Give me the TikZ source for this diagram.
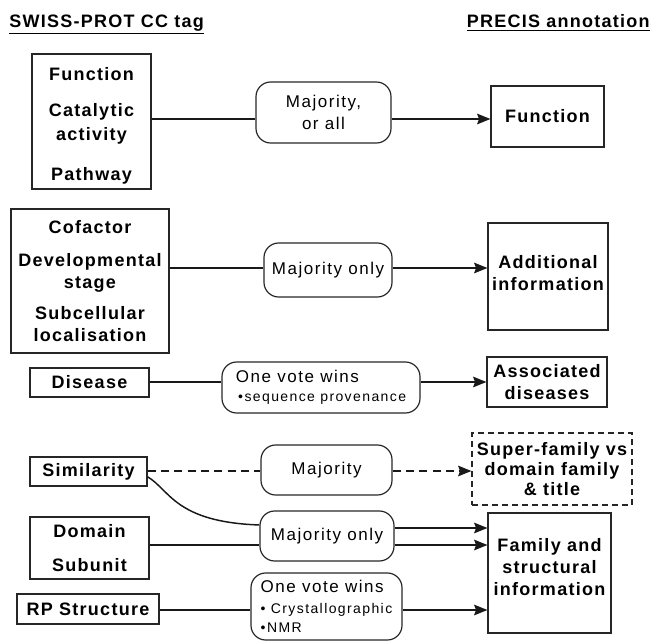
\documentclass[tikz,border=0pt]{standalone}
\usepackage{fontspec}
\setmainfont{Liberation Sans}
\newfontfamily\lblfamily{Liberation Sans}[LetterSpace=7]
\newfontfamily\rulefamily{Liberation Sans}[LetterSpace=9]
\newfontfamily\notefamily{Liberation Sans}[LetterSpace=10]
\usetikzlibrary{arrows.meta}
\newcommand\pxu{0.75pt}
\newcommand\notetext[1]{{\notefamily\fontsize{10.5}{13}\selectfont #1}}
\tikzset{
  headtxt/.style={font=\lblfamily\bfseries\fontsize{13.5}{16.5}\selectfont, inner sep=0pt},
  tagbox/.style={draw=black!85, line width=0.9pt, inner sep=0pt, align=center,
    font=\lblfamily\bfseries\fontsize{13.5}{16.5}\selectfont},
  outbox/.style={tagbox},
  rulebox/.style={draw=black!85, line width=0.9pt, rounded corners=11pt, inner sep=0pt,
    align=center, font=\rulefamily\fontsize{12.75}{16.5}\selectfont},
  link/.style={line width=1.1pt, black!90},
  arr/.style={link, -{Stealth[length=10pt, width=8pt, inset=1.5pt]}},
}
\begin{document}
\begin{tikzpicture}[x=0.75pt, y=-0.75pt]
    \useasboundingbox (0,0) rectangle (653,641);
    % column heads
    \node[headtxt, anchor=base west] (lhead) at (9,28) {\underline{SWISS-PROT CC tag}};
    \node[headtxt, anchor=base east] (rhead) at (650,28) {\underline{PRECIS annotation}};
    % CC tags
    \node[tagbox, minimum width=119*\pxu, minimum height=135*\pxu] (fnc) at (91.5,121.5)
        {\rule{0pt}{16.5pt}Function\\[10pt]Catalytic\\[2pt]activity\\[13pt]Pathway};
    \node[tagbox, minimum width=158*\pxu, minimum height=144*\pxu] (cof) at (90,281)
        {Cofactor\\[8pt]Developmental\\stage\\[7pt]Subcellular\\localisation};
    \node[tagbox, minimum width=119*\pxu, minimum height=29*\pxu] (dis) at (89.5,382.5) {Disease};
    \node[tagbox, minimum width=117*\pxu, minimum height=29*\pxu] (sim) at (88.5,471.5) {Similarity};
    \node[tagbox, minimum width=119*\pxu, minimum height=62*\pxu] (dom) at (89.5,548)
        {Domain\\[9pt]Subunit};
    \node[tagbox, minimum width=142*\pxu, minimum height=30*\pxu] (rps) at (88,609) {RP Structure};
    % voting rules
    \node[rulebox, minimum width=135*\pxu, minimum height=61*\pxu] (maj1) at (323.5,112.5)
        {Majority,\\or all};
    \node[rulebox, minimum width=128*\pxu, minimum height=54*\pxu] (maj2) at (328,270) {Majority only};
    \node[rulebox, minimum width=198*\pxu, minimum height=51*\pxu, align=left] (vote1) at (321,387.5)
        {One vote wins\\[-2pt]\notetext{\,•sequence provenance}};
    \node[rulebox, minimum width=131*\pxu, minimum height=50*\pxu] (maj3) at (326.5,470) {Majority};
    \node[rulebox, minimum width=134*\pxu, minimum height=50*\pxu] (maj4) at (327,536) {Majority only};
    \node[rulebox, minimum width=151*\pxu, minimum height=67*\pxu, align=left] (vote2) at (326.5,606.5)
        {One vote wins\\[-1pt]\notetext{• Crystallographic}\\[-2pt]\notetext{•NMR}};
    % PRECIS annotation
    \node[outbox, minimum width=113*\pxu, minimum height=61*\pxu] (fnout) at (547.5,116.5) {Function};
    \node[outbox, minimum width=120*\pxu, minimum height=107*\pxu] (addout) at (548,276.5)
        {Additional\\information\rule[-5pt]{0pt}{0pt}};
    \node[outbox, minimum width=120*\pxu, minimum height=50*\pxu] (assout) at (547,382)
        {Associated\\diseases};
    \node[outbox, dash pattern=on 4.5pt off 3pt, minimum width=160*\pxu, minimum height=72*\pxu]
        (supout) at (552,469) {Super-family vs\\[-1.5pt]domain family\\[-1.5pt]\& title};
    \node[outbox, minimum width=123*\pxu, minimum height=120*\pxu] (famout) at (549.5,573)
        {Family and\\structural\\information\rule[-9pt]{0pt}{0pt}};
    % rows
    \coordinate (r1) at (0,119);
    \coordinate (r2) at (0,268);
    \coordinate (r3) at (0,382);
    \coordinate (r4) at (0,471);
    \coordinate (r5) at (0,525);
    \coordinate (r6) at (0,528);
    \coordinate (r7) at (0,545);
    \coordinate (r8) at (0,610);
    \draw[link] (fnc.east |- r1) -- (maj1.west |- r1);
    \draw[arr] (maj1.east |- r1) -- (fnout.west |- r1);
    \draw[link] (cof.east |- r2) -- (maj2.west |- r2);
    \draw[arr] (maj2.east |- r2) -- (addout.west |- r2);
    \draw[link] (dis.east |- r3) -- (vote1.west |- r3);
    \draw[arr] (vote1.east |- r3) -- (assout.west |- r3);
    \draw[link, dash pattern=on 6pt off 4pt] (sim.east |- r4) -- (maj3.west |- r4);
    \draw[arr, dash pattern=on 6pt off 4pt] (maj3.east |- r4) -- (supout.west |- r4);
    \draw[link] ([yshift=-4pt]sim.east) .. controls (170,490) and (175,522) .. (maj4.west |- r5);
    \draw[link] (dom.east |- r7) -- (maj4.west |- r7);
    \draw[arr] (maj4.east |- r6) -- (famout.west |- r6);
    \draw[arr] (maj4.east |- r7) -- (famout.west |- r7);
    \draw[link, line width=0.8pt] (rps.east |- r8) -- (vote2.west |- r8);
    \draw[arr] (vote2.east |- r8) -- (famout.west |- r8);
\end{tikzpicture}
\end{document}
